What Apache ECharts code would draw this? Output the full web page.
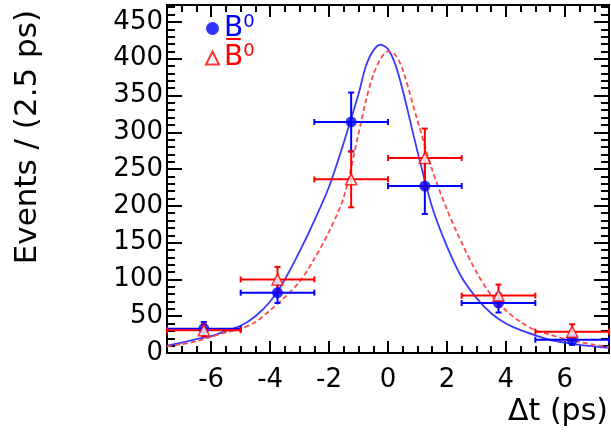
<!DOCTYPE html>
<html>
<head>
<meta charset="utf-8">
<script src="https://cdn.jsdelivr.net/npm/echarts@6/dist/echarts.min.js"></script>
<style>
html,body{margin:0;padding:0;background:#fff;}
#chart{width:611px;height:434px;}
</style>
</head>
<body>
<div id="chart"></div>
<script>
// ---- data ----
const binCenters = [-6.25, -3.75, -1.25, 1.25, 3.75, 6.25];
const binHalfWidth = 1.25;
const b0Counts = [33, 82, 314, 227, 68, 18];
const b0Errors = [9, 14, 40, 38, 13, 7];
const b0barCounts = [31, 100, 236, 265, 78, 29];
const b0barErrors = [8, 17, 38, 40, 15, 10];

const fitT = [-7.5,-7,-6.5,-6,-5.5,-5,-4.5,-4,-3.5,-3,-2.5,-2,-1.5,-1,-0.75,-0.5,-0.25,0,0.25,0.5,1,1.5,2,2.5,3,3.5,4,4.5,5,5.5,6,6.5,7,7.5];
const fitB0 = [10,14,19,23,30,37,50,70,100,138,180,226,286,352,390,411,419,413,392,357,274,198,145,103,75,54,40,31,24,18,14,11,9,7];
const fitB0bar = [9,12,16,22,28,33,42,58,76,97,128,165,212,298,343,378,400,410,405,385,316,249,195,150,110,79,58,42,31,25,19,15,11,8];

const xTickLabels = [-6, -4, -2, 0, 2, 4, 6];
const yTickLabels = [0, 50, 100, 150, 200, 250, 300, 350, 400, 450];
const xRange = [-7.5, 7.5];
const yRange = [0, 473];

// ---- build ----
const xMinor = [];
for (let v = -7.5; v <= 7.5001; v += 0.5) xMinor.push(+v.toFixed(2));
const yMinor = [];
for (let v = 0; v <= 470; v += 10) yMinor.push(v);

const FONT = 'DejaVu Sans';
const BLUE = '#0000ff';
const RED = '#ff0000';

function errBars(counts, errs) {
  return binCenters.map((c, i) => [c, counts[i], binHalfWidth, errs[i]]);
}

function renderErr(color) {
  return function (params, api) {
    const x = api.value(0), y = api.value(1), ex = api.value(2), ey = api.value(3);
    const pl = api.coord([x - ex, y]);
    const pr = api.coord([x + ex, y]);
    const pt = api.coord([x, y + ey]);
    const pb = api.coord([x, y - ey]);
    const c = 3;
    const st = { stroke: color, lineWidth: 2 };
    const L = (x1, y1, x2, y2) => ({ type: 'line', shape: { x1, y1, x2, y2 }, style: st });
    return {
      type: 'group',
      children: [
        L(pl[0], pl[1], pr[0], pr[1]),
        L(pt[0], pt[1], pb[0], pb[1]),
        L(pl[0], pl[1] - c, pl[0], pl[1] + c),
        L(pr[0], pr[1] - c, pr[0], pr[1] + c),
        L(pt[0] - c, pt[1], pt[0] + c, pt[1]),
        L(pb[0] - c, pb[1], pb[0] + c, pb[1])
      ]
    };
  };
}

const axLine = { show: true, onZero: false, lineStyle: { color: '#000', width: 2 } };
const noLine = { show: false, onZero: false };
const baseX = { type: 'value', gridIndex: 0, min: xRange[0], max: xRange[1], splitLine: { show: false } };
const baseY = { type: 'value', gridIndex: 0, min: yRange[0], max: yRange[1], splitLine: { show: false } };
const tickStyle = { color: '#000', width: 2 };

const option = {
  animation: false,
  backgroundColor: '#fff',
  grid: { left: 167, right: 2, top: 5, bottom: 81, containLabel: false },
  xAxis: [
    Object.assign({}, baseX, {
      position: 'bottom', axisLine: axLine,
      axisTick: { show: true, inside: true, length: 12, customValues: xTickLabels, lineStyle: tickStyle },
      axisLabel: { show: true, customValues: xTickLabels, fontSize: 26, fontFamily: FONT, color: '#000', margin: 14 }
    }),
    Object.assign({}, baseX, {
      position: 'top', axisLine: axLine,
      axisTick: { show: true, inside: true, length: 12, customValues: xTickLabels, lineStyle: tickStyle },
      axisLabel: { show: false }
    }),
    Object.assign({}, baseX, {
      position: 'bottom', axisLine: noLine,
      axisTick: { show: true, inside: true, length: 7, customValues: xMinor, lineStyle: tickStyle },
      axisLabel: { show: false }
    }),
    Object.assign({}, baseX, {
      position: 'top', axisLine: noLine,
      axisTick: { show: true, inside: true, length: 7, customValues: xMinor, lineStyle: tickStyle },
      axisLabel: { show: false }
    })
  ],
  yAxis: [
    Object.assign({}, baseY, {
      position: 'left', axisLine: axLine,
      axisTick: { show: true, inside: true, length: 15, customValues: yTickLabels, lineStyle: tickStyle },
      axisLabel: { show: true, customValues: yTickLabels, fontSize: 26, fontFamily: FONT, color: '#000', margin: 4 }
    }),
    Object.assign({}, baseY, {
      position: 'right', axisLine: axLine,
      axisTick: { show: true, inside: true, length: 15, customValues: yTickLabels, lineStyle: tickStyle },
      axisLabel: { show: false }
    }),
    Object.assign({}, baseY, {
      position: 'left', axisLine: noLine,
      axisTick: { show: true, inside: true, length: 8, customValues: yMinor, lineStyle: tickStyle },
      axisLabel: { show: false }
    }),
    Object.assign({}, baseY, {
      position: 'right', axisLine: noLine,
      axisTick: { show: true, inside: true, length: 8, customValues: yMinor, lineStyle: tickStyle },
      axisLabel: { show: false }
    })
  ],
  legend: {
    orient: 'vertical', left: 200, top: 8, itemGap: 0, itemWidth: 13, itemHeight: 13,
    selectedMode: false,
    data: [{ name: 'B0', icon: 'circle' }, { name: 'B0bar', icon: 'triangle' }],
    formatter: function (name) {
      return name === 'B0' ? '{b1|B}{s1|0}' : '{b2|B\u0305}{s2|0}';
    },
    textStyle: {
      fontFamily: FONT,
      rich: {
        b1: { fontSize: 28, color: BLUE, fontFamily: FONT, lineHeight: 31 },
        s1: { fontSize: 18, color: BLUE, fontFamily: FONT, lineHeight: 31, verticalAlign: 'top' },
        b2: { fontSize: 28, color: RED, fontFamily: FONT, lineHeight: 31 },
        s2: { fontSize: 18, color: RED, fontFamily: FONT, lineHeight: 31, verticalAlign: 'top' }
      }
    }
  },
  graphic: [
    { type: 'text', x: 28, y: 10, rotation: Math.PI / 2,
      style: { text: 'Events / (2.5 ps)', fontSize: 31, fontFamily: FONT, fill: '#000', textAlign: 'right', textVerticalAlign: 'middle' } },
    { type: 'text', x: 608, y: 412,
      style: { text: '\u0394t (ps)', fontSize: 30, fontFamily: FONT, fill: '#000', textAlign: 'right', textVerticalAlign: 'middle' } }
  ],
  series: [
    { name: 'fitB0', type: 'line', xAxisIndex: 0, yAxisIndex: 0, data: fitT.map((t, i) => [t, fitB0[i]]),
      showSymbol: false, smooth: 0.3, lineStyle: { color: '#3a3aff', width: 1.8 }, z: 2, silent: true },
    { name: 'fitB0bar', type: 'line', xAxisIndex: 0, yAxisIndex: 0, data: fitT.map((t, i) => [t, fitB0bar[i]]),
      showSymbol: false, smooth: 0.3, lineStyle: { color: '#ff4a4a', width: 1.8, type: [5, 3] }, z: 2, silent: true },
    { name: 'errB0', type: 'custom', xAxisIndex: 0, yAxisIndex: 0, data: errBars(b0Counts, b0Errors),
      renderItem: renderErr(BLUE), z: 3, silent: true },
    { name: 'errB0bar', type: 'custom', xAxisIndex: 0, yAxisIndex: 0, data: errBars(b0barCounts, b0barErrors),
      renderItem: renderErr(RED), z: 4, silent: true },
    { name: 'B0', type: 'scatter', xAxisIndex: 0, yAxisIndex: 0, data: binCenters.map((c, i) => [c, b0Counts[i]]),
      symbol: 'circle', symbolSize: 11, itemStyle: { color: BLUE }, z: 5 },
    { name: 'B0bar', type: 'scatter', xAxisIndex: 0, yAxisIndex: 0, data: binCenters.map((c, i) => [c, b0barCounts[i]]),
      symbol: 'triangle', symbolSize: 11, itemStyle: { color: '#fff', borderColor: RED, borderWidth: 1.5 }, z: 6 }
  ]
};

const chart = echarts.init(document.getElementById('chart'), null, { renderer: 'canvas' });
chart.setOption(option);
</script>
</body>
</html>
